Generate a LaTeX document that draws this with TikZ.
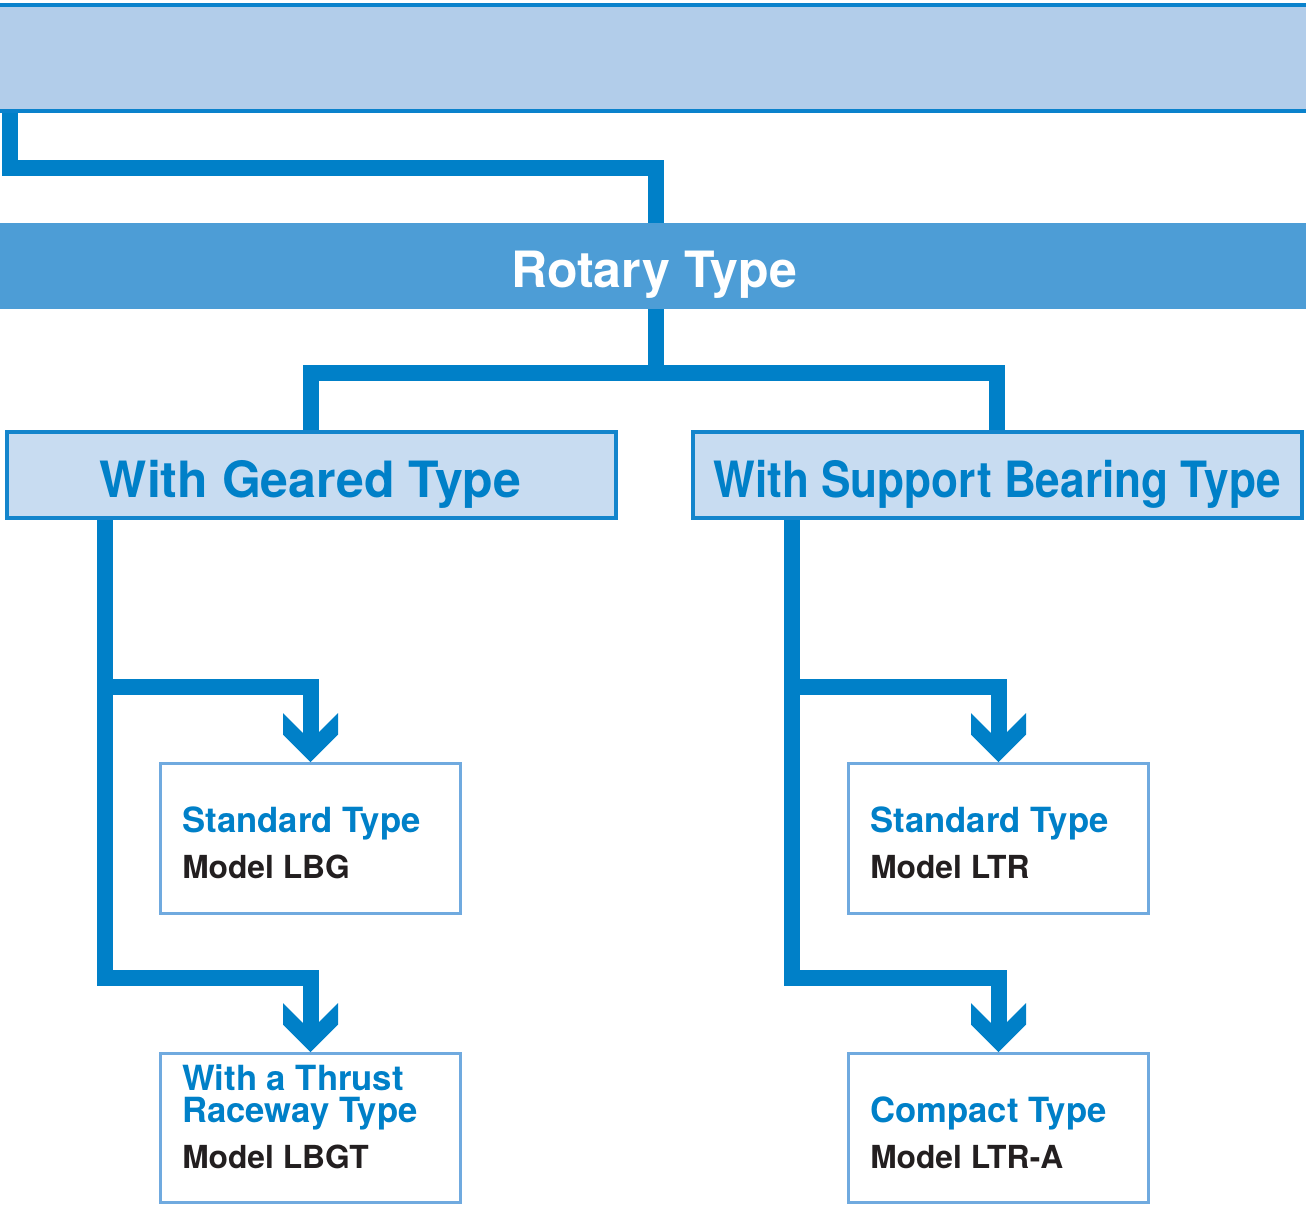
\documentclass[tikz,border=0pt]{standalone}
\usepackage{fontspec}
\setmainfont{TeX Gyre Heros}
\usepackage{graphicx}
\usepackage{tikz}
\usetikzlibrary{shapes}

% chevron head of the flow arrows
\pgfdeclarearrow{
  name = chev,
  setup code = {
    \pgfarrowssettipend{0pt}
    \pgfarrowssetlineend{-21pt}
    \pgfarrowssetvisualbackend{-36.75pt}
    \pgfarrowssetbackend{-36.75pt}
  },
  drawing code = {
    \pgfpathmoveto{\pgfqpoint{0pt}{0pt}}
    \pgfpathlineto{\pgfqpoint{-20.625pt}{20.625pt}}
    \pgfpathlineto{\pgfqpoint{-36.75pt}{20.625pt}}
    \pgfpathlineto{\pgfqpoint{-22.125pt}{6pt}}
    \pgfpathlineto{\pgfqpoint{-22.125pt}{-6pt}}
    \pgfpathlineto{\pgfqpoint{-36.75pt}{-20.625pt}}
    \pgfpathlineto{\pgfqpoint{-20.625pt}{-20.625pt}}
    \pgfpathclose
    \pgfusepathqfill
  }
}

\begin{document}
\begin{tikzpicture}[x=0.75pt,y=0.75pt,yscale=-1,xscale=1,
  link/.style={draw={rgb, 255:red, 0; green, 128; blue, 200 }, line width=12pt, line join=miter},
  topband/.style={rectangle, inner sep=0pt, draw={rgb, 255:red, 10; green, 130; blue, 204 }, line width=3pt, fill={rgb, 255:red, 178; green, 205; blue, 234 }, minimum width=1005pt, minimum height=79.5pt},
  rotband/.style={rectangle, inner sep=0pt, fill={rgb, 255:red, 77; green, 157; blue, 214 }, minimum width=997.5pt, minimum height=64.5pt},
  headbox/.style={rectangle, inner sep=0pt, draw={rgb, 255:red, 20; green, 133; blue, 204 }, line width=3pt, fill={rgb, 255:red, 200; green, 220; blue, 241 }, minimum width=457.1pt, minimum height=64.5pt},
  modelbox/.style={rectangle, inner sep=0pt, draw={rgb, 255:red, 112; green, 170; blue, 223 }, line width=2.25pt, fill=white, minimum width=225pt},
  headtext/.style={anchor=base, inner sep=0pt, font=\fontsize{37.5}{40}\selectfont\bfseries},
  titletext/.style={anchor=base west, inner sep=0pt, text={rgb, 255:red, 0; green, 128; blue, 200 }, font=\fontsize{26}{28}\selectfont\bfseries},
  modeltext/.style={anchor=base west, inner sep=0pt, text={rgb, 255:red, 35; green, 31; blue, 32 }, font=\fontsize{23.8}{26}\selectfont\bfseries}
]
\useasboundingbox (0,0) rectangle (1306,1204);
\clip (0,0) rectangle (1306,1204);

%Flowchart: Process
\node[topband] (topbar) at (653,57.5) {};
%Flowchart: Process
\node[rotband] (rotary) at (656,266) {};
%Flowchart: Process
\node[headbox] (geared) at (311.25,475) {};
%Flowchart: Process
\node[headbox] (support) at (997.3,475) {};
%Flowchart: Process
\node[modelbox, minimum height=112.5pt] (lbg) at (310.5,838.5) {};
%Flowchart: Process
\node[modelbox, minimum height=111.75pt] (lbgt) at (310.5,1128) {};
%Flowchart: Process
\node[modelbox, minimum height=112.5pt] (ltr) at (998.5,838.5) {};
%Flowchart: Process
\node[modelbox, minimum height=111.75pt] (ltra) at (998.5,1128) {};

% bends of the links
\coordinate (k1) at (9.5,167.5);
\coordinate (k2) at (656,373);
\coordinate (g1) at (104.5,686.5);
\coordinate (g2) at (104.5,977.5);
\coordinate (s1) at (792,686.5);
\coordinate (s2) at (792,977.5);

%Straight Lines
\draw[link] (topbar.south -| k1) -- (k1) -| (rotary.north);
%Straight Lines
\draw[link] (rotary.south) -- (k2) -| (geared.north);
\draw[link] (k2) -| (support.north);
%Straight Lines
\draw[link, -chev] (geared.south -| g2) -- (g2) -| (lbgt.north);
\draw[link, -chev] (g1) -| (lbg.north);
%Straight Lines
\draw[link, -chev] (support.south -| s2) -- (s2) -| (ltra.north);
\draw[link, -chev] (s1) -| (ltr.north);

% Text Node
\node[headtext, text=white] (rotarylabel) at (654,287) {Rotary Type};
% Text Node
\node[headtext, text={rgb, 255:red, 0; green, 128; blue, 200 }] (gearedlabel) at (310.5,497) {With Geared Type};
% Text Node
\node[headtext, text={rgb, 255:red, 0; green, 128; blue, 200 }] (supportlabel) at (997,497) {\scalebox{0.884}[1]{With Support Bearing Type}};
% Text Node
\node[titletext] (lbgtitle) at (182,832) {Standard Type};
\node[modeltext] (lbgname) at (182,878) {Model LBG};
% Text Node
\node[titletext] (lbgttitle) at (182,1090) {With a Thrust};
\node[titletext] (lbgttitleb) at (182,1122) {Raceway Type};
\node[modeltext] (lbgtname) at (182,1168) {Model LBGT};
% Text Node
\node[titletext] (ltrtitle) at (870,832) {Standard Type};
\node[modeltext] (ltrname) at (870,878) {Model LTR};
% Text Node
\node[titletext] (ltratitle) at (870,1122) {Compact Type};
\node[modeltext] (ltraname) at (870,1168) {Model LTR-A};

\end{tikzpicture}
\end{document}
